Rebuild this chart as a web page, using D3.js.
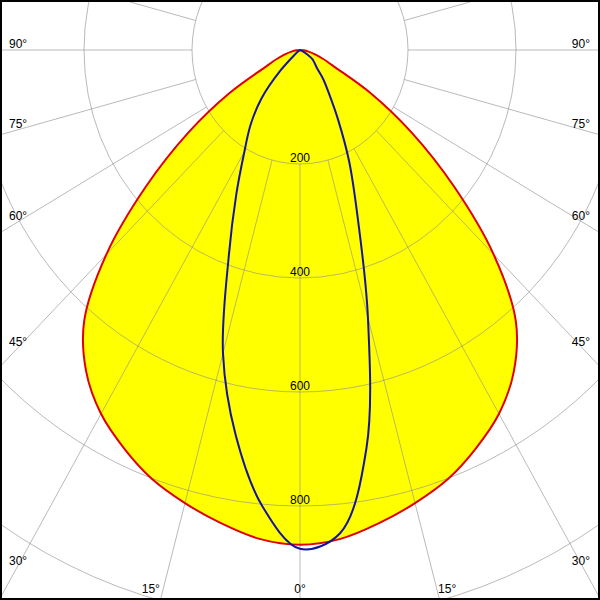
<!DOCTYPE html>
<html><head><meta charset="utf-8">
<script src="https://cdn.jsdelivr.net/npm/d3@7/dist/d3.min.js"></script>
<style>body{margin:0;background:#fff}svg{display:block}</style>
</head><body><svg id="c" width="600" height="600"></svg>
<script>
// gamma angles (degrees from nadir)
const gammaAngles = [0,5,10,15,20,25,30,35,40,45,50,55,60,65,70,75,80,85,90];
// C0-C180 plane (red, symmetric), cd
const planeC0C180 = [868,861,843,823,801,771,737,690,622,507,372,252,150,72,45,28,16,7,0];
// C90 plane (blue, right half), cd
const planeC90 = [875,851,709,486,312,215,141,94,67,44,35,28,15,5,0,0,0,0,0];
// C270 plane (blue, left half), cd
const planeC270 = [875,803,686,551,386,279,206,159,111,52,12,4,0,0,0,0,0,0,0];
// grid
const ringValues = [200,400,600,800,1000];
const ringLabels = ["200","400","600","800"];
const angleTicks = [0,15,30,45,60,75,90];
const angleTickLabels = ["0°","15°","30°","45°","60°","75°","90°"];

const W = 600, H = 600;
const svg = d3.select("#c");
// anisotropic polar frame: centre at top
const x = d3.scaleLinear().domain([-300/0.54, 300/0.54]).range([0, W]);
const y = d3.scaleLinear().domain([-50/0.57, 550/0.57]).range([0, H]);
function pt(side, g, v){ const a = g*Math.PI/180; return [x(side*v*Math.sin(a)), y(v*Math.cos(a))]; }

svg.append("defs").append("clipPath").attr("id","clip")
  .append("rect").attr("x",0).attr("y",0).attr("width",W).attr("height",H);
const g = svg.append("g").attr("clip-path","url(#clip)");

const line = d3.line().curve(d3.curveCatmullRom.alpha(0.5));

// red plane polygon: left half 90->0, right half 0->90
const redPts = [];
for (let i = gammaAngles.length-1; i >= 0; i--) redPts.push(pt(-1, gammaAngles[i], planeC0C180[i]));
for (let i = 1; i < gammaAngles.length; i++) redPts.push(pt(1, gammaAngles[i], planeC0C180[i]));
const bluePts = [];
for (let i = gammaAngles.length-1; i >= 0; i--) bluePts.push(pt(-1, gammaAngles[i], planeC270[i]));
for (let i = 1; i < gammaAngles.length; i++) bluePts.push(pt(1, gammaAngles[i], planeC90[i]));

g.append("path").attr("d", line(redPts)).attr("fill","#ffff00").attr("stroke","none");

// grid
const grid = g.append("g").attr("stroke","#8c8c8c").attr("stroke-opacity",0.6).attr("fill","none").attr("stroke-width",1);
ringValues.forEach(r => {
  grid.append("ellipse").attr("cx", x(0)).attr("cy", y(0))
    .attr("rx", x(r)-x(0)).attr("ry", y(r)-y(0));
});
for (let k = 0; k < 24; k++) {
  const a = k*15;
  const p0 = pt(1, a, ringValues[0]), p1 = pt(1, a, 3000);
  grid.append("line").attr("x1",p0[0]).attr("y1",p0[1]).attr("x2",p1[0]).attr("y2",p1[1]);
}

g.append("path").attr("d", line(redPts)).attr("fill","none").attr("stroke","#e00000").attr("stroke-width",2);
g.append("path").attr("d", line(bluePts)).attr("fill","none").attr("stroke","#1414a0").attr("stroke-width",2);

// labels
const font = "'Liberation Sans', Arial, sans-serif";
const labels = svg.append("g").attr("font-family", font).attr("font-size", 12).attr("fill","#000");
ringLabels.forEach((t, i) => {
  labels.append("text").attr("x", x(0)).attr("y", y(ringValues[i]) - 2)
    .attr("text-anchor","middle").text(t);
});
// side angle labels: baseline where the ray crosses label centre column
angleTicks.forEach((a, i) => {
  const t = angleTickLabels[i];
  const rad = a*Math.PI/180;
  if (a >= 30) {
    const labelCx = 18;
    const dxp = x(0) - labelCx;                      // pixel distance from centre
    const slope = (y(Math.cos(rad)) - y(0)) / (x(Math.sin(rad)) - x(0));
    let by = y(0) + dxp*slope - 2;
    if (a === 30) by = 565;
    labels.append("text").attr("x", 9).attr("y", by).attr("text-anchor","start").text(t);
    labels.append("text").attr("x", 590).attr("y", by).attr("text-anchor","end").text(t);
  } else if (a === 0) {
    labels.append("text").attr("x", x(0)).attr("y", 593).attr("text-anchor","middle").text(t);
  } else {
    const slope = (x(Math.sin(rad)) - x(0)) / (y(Math.cos(rad)) - y(0));
    const ex = (598 - y(0))*slope;
    labels.append("text").attr("x", x(0) - ex - 1).attr("y", 593).attr("text-anchor","end").text(t);
    labels.append("text").attr("x", x(0) + ex - 1).attr("y", 593).attr("text-anchor","start").text(t);
  }
});

// frame
svg.append("rect").attr("x",1).attr("y",1).attr("width",598).attr("height",598)
  .attr("fill","none").attr("stroke","#000").attr("stroke-width",2);
</script>
</body></html>
